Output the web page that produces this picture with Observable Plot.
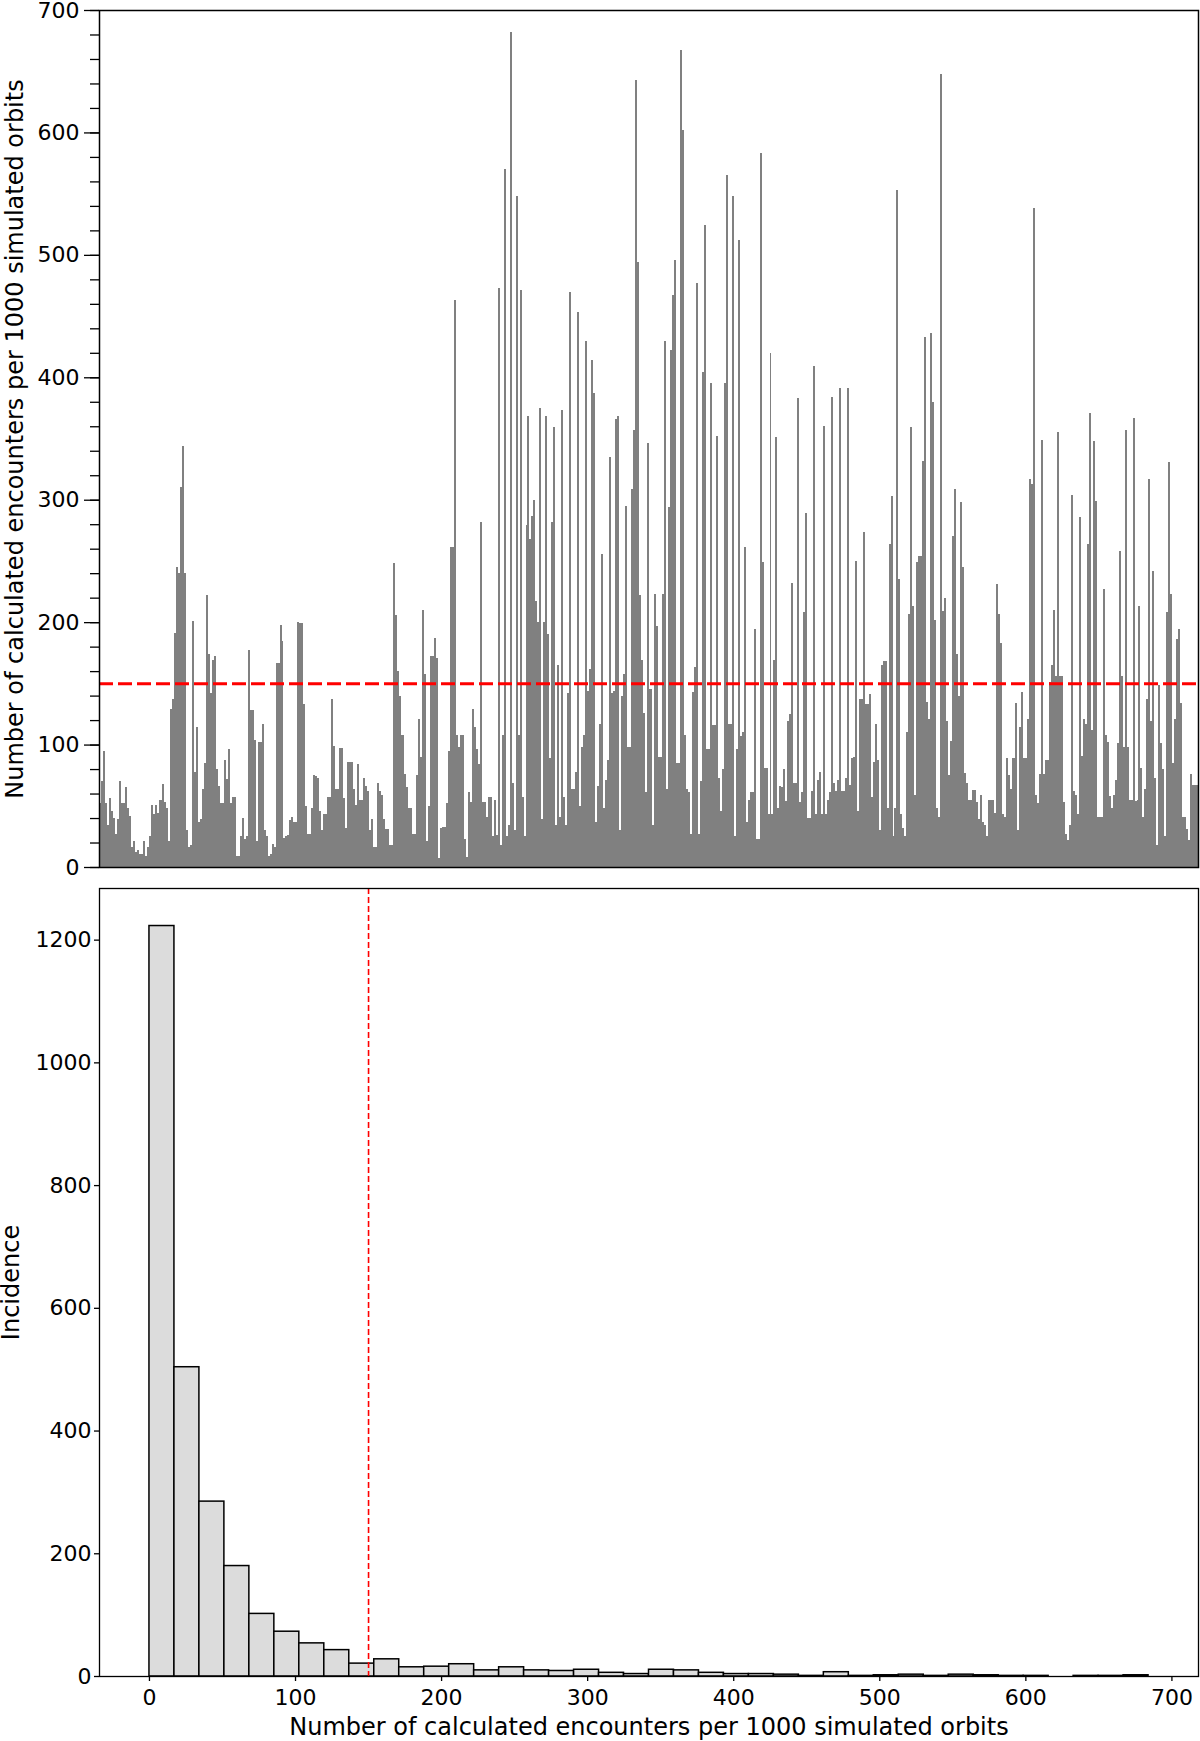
<!DOCTYPE html>
<html>
<head>
<meta charset="utf-8">
<script src="https://cdn.jsdelivr.net/npm/d3@7"></script>
<script src="https://cdn.jsdelivr.net/npm/@observablehq/plot@0.6"></script>
<style>
  html, body { margin: 0; padding: 0; background: white; }
  #chart svg { display: block; }
</style>
</head>
<body>
<div id="chart"></div>
<script>
// ---- Top panel: encounters per 1000 simulated orbits, in order (~2 px per value)
const encountersA = [52,70,95,52,34,56,46,40,27,39,70,52,52,65,48,42,16,21,12,14,11,11,21,9,16,25,51,43,51,44,55,55,68,53,48,21,129,137,191,245,240,310,344,240,30,16,18,201,78,114,37,39,64,85,222,174,142,169,172,80,66,52,52,87,72,96,52,57,57,9,9,25,40,23,25,177,128,128,104,21,102,102,117,30,25,9,11,19,16,167,167,198,185,24,25,26,38,41,37,37,200,199,199,133,50,27,27,48,75,74,73,46,30,43,43,57,57,137,99,64,64,97,97,56,32,86,86,86,64,51,84,55,55,73,66];
const encountersB = [62,30,39,16,16,69,62,59,39,31,31,18,18,248,206,160,140,108,108,76,65,48,48,27,27,75,121,90,210,158,21,50,172,172,187,171,7,32,33,33,52,95,261,261,463,108,98,108,108,23,8,61,53,129,114,96,84,282,53,53,41,57,57,25,55,26,473,18,108,570,25,34,682,69,30,548,108,471,57,25,279,368,268,287,300,217,200,375,39,200,368,190,89,282,359,34,165,41,373,57,34,142,470,64,64,78,453,50,98,108,430,144,162,414,387,37,66,117,256,48,71,87,335,142,144,366,368,30,140,158,295,98,98,309,357,643,494,222];
const encountersC = [169,126,61,346,145,145,34,223,197,90,90,223,430,64,294,422,467,496,85,85,667,602,108,64,61,27,143,163,477,27,70,404,524,96,96,395,116,116,352,73,46,80,395,565,117,117,548,25,96,512,107,110,261,37,55,61,61,194,23,23,583,249,81,81,43,420,43,169,351,48,66,65,80,54,119,125,232,69,69,383,53,61,208,289,40,40,62,409,43,71,78,43,360,43,55,61,384,69,62,71,391,62,62,73,391,67,89,90,250,46,137,137,274,133,133,141,57,86,117,87,30,165,168,168,48,264,303,25,48,553,235,43,32,25,110,207];
const encountersD = [359,213,59,249,254,254,332,433,135,121,436,380,202,48,41,648,209,220,119,75,103,270,309,174,140,298,245,77,69,55,55,63,63,53,39,59,37,34,25,55,55,55,44,231,207,183,43,41,89,75,64,89,89,134,30,114,143,89,89,121,317,313,538,59,52,76,349,76,87,87,151,165,210,156,355,156,156,53,27,22,34,304,62,59,43,286,91,121,117,264,371,112,348,299,41,41,41,227,108,102,58,48,59,71,101,258,156,98,357,98,55,55,367,54,55,213,81,41,64,137,317,119,242,73,18,149,101,80,25,208,331,223,85,121,186,194,134,41,41,31,22,76,67,67,67];

// ---- Threshold (red dashed line)
const threshold = 150;

// ---- Bottom panel: histogram counts (40 bins from 0 to 684)
const histCounts = [1223,504,285,180,102,73,54,43,21,28,15,16,20,10,15,10,9,11,6,4,11,10,6,4,4,3,1,7,1,2,3,1,3,2,1,1,0,1,1,2];
const histMax = 684;

// ---- Axis tick values and labels
const topMajorTicks = [0,100,200,300,400,500,600,700];
const topMinorTicks = d3.range(0, 701, 20);
const bottomXTicks = [0,100,200,300,400,500,600,700];
const bottomYTicks = [0,200,400,600,800,1000,1200];
const axisTitleX = "Number of calculated encounters per 1000 simulated orbits";
const axisTitleTopY = "Number of calculated encounters per 1000 simulated orbits";
const axisTitleBottomY = "Incidence";

const encounters = [...encountersA, ...encountersB, ...encountersC, ...encountersD];
const binWidth = histMax / histCounts.length;
const hist = histCounts.map((c, i) => ({x1: i * binWidth, x2: (i + 1) * binWidth, count: c}));
const plain = d => String(d);

const baseStyle = {fontFamily: "DejaVu Sans", fontSize: "22px", color: "black", background: "white", overflow: "visible"};

const topChart = Plot.plot({
  width: 1200,
  height: 878,
  marginLeft: 99,
  marginRight: 2,
  marginTop: 10,
  marginBottom: 11,
  style: baseStyle,
  x: {domain: [0, encounters.length], axis: null},
  y: {domain: [0, 700], label: null, axis: null},
  marks: [
    Plot.rectY(encounters, {x1: (d, i) => i, x2: (d, i) => i + 1, y: d => d, fill: "#808080", shapeRendering: "crispEdges"}),
    Plot.ruleY([threshold], {stroke: "red", strokeWidth: 3, strokeDasharray: "14,5"}),
    Plot.axisY(topMinorTicks, {tickSize: 9, tickFormat: () => "", label: null, strokeWidth: 1.3}),
    Plot.axisY(topMajorTicks, {tickSize: 15, tickPadding: 5, tickFormat: plain, label: null, strokeWidth: 1.3}),
    Plot.frame({stroke: "black", strokeWidth: 1.5}),
    Plot.text([axisTitleTopY], {frameAnchor: "left", dx: -84, rotate: -90, textAnchor: "middle", lineAnchor: "middle", fontSize: 24, fill: "black"})
  ]
});

const bottomChart = Plot.plot({
  width: 1200,
  height: 863,
  marginLeft: 99,
  marginRight: 2,
  marginTop: 10,
  marginBottom: 65,
  style: baseStyle,
  x: {domain: [-0.05 * histMax, 1.05 * histMax], axis: null},
  y: {domain: [0, 1.05 * d3.max(histCounts)], axis: null},
  marks: [
    Plot.rectY(hist, {x1: "x1", x2: "x2", y: "count", fill: "#dcdcdc", stroke: "black", strokeWidth: 1.5}),
    Plot.ruleX([threshold], {stroke: "red", strokeWidth: 1.6, strokeDasharray: "6,3"}),
    Plot.axisX(bottomXTicks, {tickSize: 5, tickPadding: 8, tickFormat: plain, label: null, strokeWidth: 1.3}),
    Plot.axisY(bottomYTicks, {tickSize: 5, tickPadding: 3, tickFormat: plain, label: null, strokeWidth: 1.3}),
    Plot.frame({stroke: "black", strokeWidth: 1.3}),
    Plot.text([axisTitleX], {frameAnchor: "bottom", dy: 51, textAnchor: "middle", lineAnchor: "middle", fontSize: 24, fill: "black"}),
    Plot.text([axisTitleBottomY], {frameAnchor: "left", dx: -88, rotate: -90, textAnchor: "middle", lineAnchor: "middle", fontSize: 24, fill: "black"})
  ]
});

const el = document.getElementById("chart");
el.appendChild(topChart);
el.appendChild(bottomChart);
</script>
</body>
</html>
